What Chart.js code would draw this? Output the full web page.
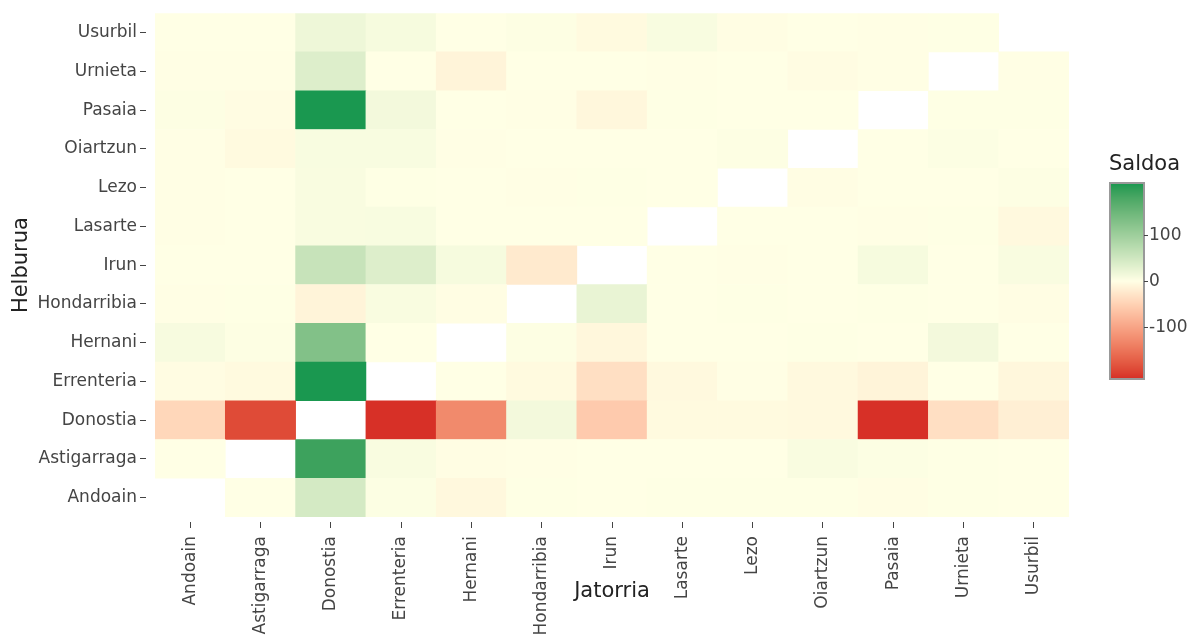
<!DOCTYPE html>
<html>
<head>
<meta charset="utf-8">
<script src="https://cdn.jsdelivr.net/npm/chart.js@4/dist/chart.umd.min.js"></script>
<style>
html,body{margin:0;padding:0;background:#fff;}
#wrap{width:1199px;height:639px;position:relative;}
</style>
</head>
<body>
<div id="wrap"><canvas id="c" width="1199" height="639"></canvas></div>
<script>
// Origin (x axis) and destination (y axis, bottom to top) municipalities
const jatorria = ['Andoain','Astigarraga','Donostia','Errenteria','Hernani','Hondarribia','Irun','Lasarte','Lezo','Oiartzun','Pasaia','Urnieta','Usurbil'];
const helburua = ['Andoain','Astigarraga','Donostia','Errenteria','Hernani','Hondarribia','Irun','Lasarte','Lezo','Oiartzun','Pasaia','Urnieta','Usurbil'];

// Saldoa per destination row, one value per origin column
const rowAndoain     = [null, 0, 44, 3, -8, 1, 0, 1, 1, 1, -2, 1, 0];
const rowAstigarraga = [0, null, 190, 6, -2, -1, 0, 0, 0, 6, 3, 1, 0];
const rowDonostia    = [-44, -190, null, -210, -128, 12, -58, -6, -6, -7, -210, -35, -17];
const rowErrenteria  = [-3, -6, 210, null, 0, -6, -35, -7, -1, -7, -12, 0, -9];
const rowHernani     = [8, 2, 128, 0, null, 2, -9, 0, 0, 1, 0, 12, 0];
const rowHondarribia = [-1, 1, -12, 6, -2, null, 23, 0, 1, 0, 1, 0, -2];
const rowIrun        = [0, 0, 58, 35, 9, -23, null, 0, -1, 0, 9, 0, 6];
const rowLasarte     = [-1, 0, 6, 7, 0, 0, 0, null, 0, 0, -1, 1, -7];
const rowLezo        = [-1, 0, 6, 1, 0, -1, 1, 0, null, -2, 0, 0, 2];
const rowOiartzun    = [-1, -6, 7, 7, -1, 0, 0, 0, 2, null, 0, 3, 0];
const rowPasaia      = [2, -3, 210, 12, 0, -1, -9, 1, 0, 0, null, 1, 1];
const rowUrnieta     = [-1, -1, 35, 0, -12, 0, 0, -1, 0, -3, -1, null, -1];
const rowUsurbil     = [0, 0, 17, 9, 0, 2, -6, 7, -2, 0, -1, 1, null];

const saldoa = [rowAndoain,rowAstigarraga,rowDonostia,rowErrenteria,rowHernani,rowHondarribia,rowIrun,rowLasarte,rowLezo,rowOiartzun,rowPasaia,rowUrnieta,rowUsurbil];

const colorbarTicks = [100, 0, -100];
const zMin = -210, zMax = 210;
const colorStops = ['#d73027', '#ffffe5', '#1a9850'];

// ---- Lab colour interpolation ----
function hexToRgb(h){h=h.replace('#','');return [parseInt(h.substr(0,2),16),parseInt(h.substr(2,2),16),parseInt(h.substr(4,2),16)];}
function s2l(c){c/=255;return c<=0.04045?c/12.92:Math.pow((c+0.055)/1.055,2.4);}
function l2s(c){const v=c<=0.0031308?12.92*c:1.055*Math.pow(c,1/2.4)-0.055;return Math.round(Math.max(0,Math.min(1,v))*255);}
function rgbToLab(rgb){
  const r=s2l(rgb[0]),g=s2l(rgb[1]),b=s2l(rgb[2]);
  let x=(0.4124*r+0.3576*g+0.1805*b)/0.95047,y=(0.2126*r+0.7152*g+0.0722*b),z=(0.0193*r+0.1192*g+0.9505*b)/1.08883;
  const f=t=>t>0.008856?Math.cbrt(t):7.787*t+16/116;
  x=f(x);y=f(y);z=f(z);
  return [116*y-16,500*(x-y),200*(y-z)];
}
function labToRgb(lab){
  let y=(lab[0]+16)/116,x=lab[1]/500+y,z=y-lab[2]/200;
  const fi=t=>{const t3=t*t*t;return t3>0.008856?t3:(t-16/116)/7.787;};
  x=fi(x)*0.95047;y=fi(y);z=fi(z)*1.08883;
  const r=3.2406*x-1.5372*y-0.4986*z,g=-0.9689*x+1.8758*y+0.0415*z,b=0.0557*x-0.2040*y+1.0570*z;
  return [l2s(r),l2s(g),l2s(b)];
}
const labStops = colorStops.map(c=>rgbToLab(hexToRgb(c)));
function colorFor(v){
  let t=(v-zMin)/(zMax-zMin); t=Math.max(0,Math.min(1,t));
  const seg = t<0.5?0:1; const lt = seg===0?t/0.5:(t-0.5)/0.5;
  const a=labStops[seg],b=labStops[seg+1];
  const rgb=labToRgb([a[0]+(b[0]-a[0])*lt,a[1]+(b[1]-a[1])*lt,a[2]+(b[2]-a[2])*lt]);
  return 'rgb('+rgb[0]+','+rgb[1]+','+rgb[2]+')';
}

const datasets = helburua.map((row,i)=>({
  label: row,
  data: saldoa[i].map(v => v === null ? null : [i, i+1]),
  backgroundColor: saldoa[i].map(v => v === null ? 'rgba(0,0,0,0)' : colorFor(v)),
  borderWidth: 0,
  grouped: false,
  barPercentage: 1,
  categoryPercentage: 1
}));

const FONT = 'DejaVu Sans';

const extras = {
  id: 'extras',
  afterDraw(chart){
    const c = chart.ctx;
    const ca = chart.chartArea;
    c.save();
    // x axis title
    c.fillStyle = '#222';
    c.font = '21px "' + FONT + '"';
    c.textAlign = 'center';
    c.textBaseline = 'middle';
    c.fillText('Jatorria', (ca.left + ca.right)/2, 592);
    // colorbar
    const x0 = 1111, x1 = 1143, yTop = 184, yBot = 378;
    const yOf = v => yBot - (v - zMin)/(zMax - zMin)*(yBot - yTop);
    for (let y = yTop; y < yBot; y++) {
      const v = zMax - (y + 0.5 - yTop)/(yBot - yTop)*(zMax - zMin);
      c.fillStyle = colorFor(v);
      c.fillRect(x0, y, x1 - x0, 1);
    }
    c.strokeStyle = '#999';
    c.lineWidth = 2;
    c.strokeRect(x0 - 1, yTop - 1, x1 - x0 + 2, yBot - yTop + 2);
    c.strokeStyle = '#444';
    c.lineWidth = 1;
    c.fillStyle = '#444';
    c.font = '17px "' + FONT + '"';
    c.textAlign = 'left';
    c.textBaseline = 'middle';
    colorbarTicks.forEach(v => {
      const y = Math.round(yOf(v)) + 0.5;
      c.beginPath(); c.moveTo(x1 + 1, y); c.lineTo(x1 + 5, y); c.stroke();
      c.fillText(String(v), x1 + 6, y);
    });
    c.fillStyle = '#222';
    c.font = '21px "' + FONT + '"';
    c.fillText('Saldoa', 1109, 165);
    c.restore();
  }
};

new Chart(document.getElementById('c'), {
  type: 'bar',
  data: { labels: jatorria, datasets },
  options: {
    responsive: false,
    animation: false,
    events: [],
    layout: { padding: { top: 11, right: 130, left: 0, bottom: 0 } },
    plugins: { legend: { display: false }, tooltip: { enabled: false } },
    scales: {
      x: {
        type: 'category',
        offset: true,
        grid: { display: true, drawOnChartArea: false, offset: false, tickLength: 11, tickBorderDash: [6,5], tickBorderDashOffset: 6, tickColor: '#444', tickWidth: 1 },
        border: { display: false },
        ticks: { autoSkip: false, minRotation: 90, maxRotation: 90, padding: 8, color: '#444', font: { family: FONT, size: 17 } },
        afterFit(s){ s.height = 122; }
      },
      y: {
        type: 'linear',
        min: 0, max: 13,
        afterBuildTicks(s){ s.ticks = helburua.map((_, i) => ({ value: i + 0.5 })); },
        grid: { display: true, drawOnChartArea: false, tickLength: 15, tickBorderDash: [6,9], tickColor: '#444', tickWidth: 1 },
        border: { display: false },
        ticks: { autoSkip: false, padding: 3, color: '#444', font: { family: FONT, size: 17 }, callback: (v, i) => helburua[i] },
        title: { display: true, text: 'Helburua', color: '#222', font: { family: FONT, size: 21 }, padding: { top: 9, bottom: 0 } },
        afterFit(s){ s.width = 155; }
      }
    }
  },
  plugins: [extras]
});
</script>
</body>
</html>
